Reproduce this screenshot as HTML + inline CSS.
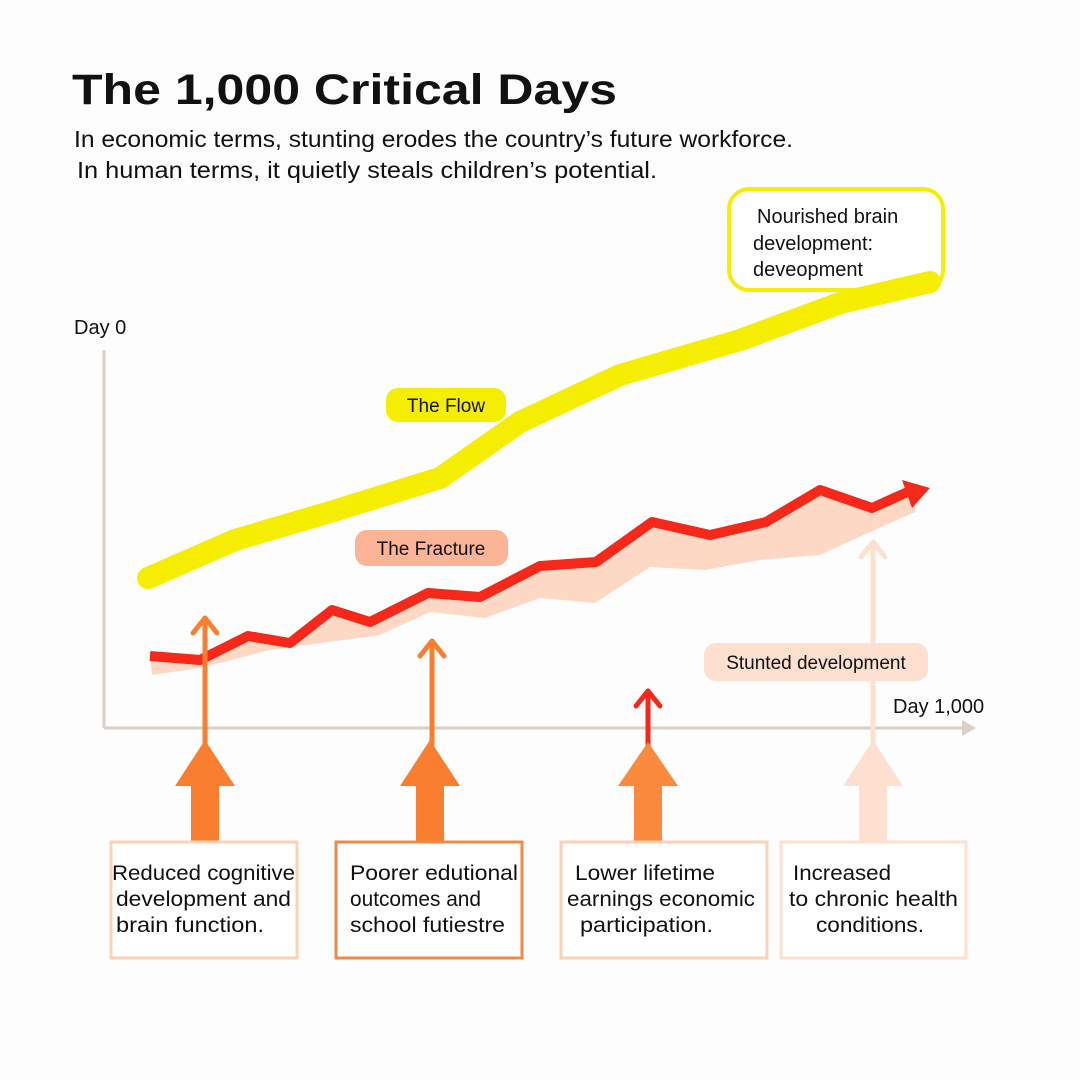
<!DOCTYPE html>
<html><head><meta charset="utf-8"><style>
body{margin:0;background:#fff;}
svg{display:block;font-family:"Liberation Sans","DejaVu Sans",sans-serif;}
</style></head><body>
<svg width="1080" height="1080" viewBox="0 0 1080 1080" xmlns="http://www.w3.org/2000/svg">
<rect width="1080" height="1080" fill="#fdfdfd"/>
<text x="72" y="104" font-size="43" font-weight="bold" fill="#111" textLength="545" lengthAdjust="spacingAndGlyphs">The 1,000 Critical Days</text>
<text x="74" y="147" font-size="23" fill="#111" textLength="719" lengthAdjust="spacingAndGlyphs">In economic terms, stunting erodes the country’s future workforce.</text>
<text x="77" y="178" font-size="23" fill="#111" textLength="580" lengthAdjust="spacingAndGlyphs">In human terms, it quietly steals children’s potential.</text>

<!-- axes -->
<line x1="104" y1="350" x2="104" y2="728" stroke="#d9d0c8" stroke-width="3"/>
<line x1="104" y1="728" x2="968" y2="728" stroke="#d9d0c8" stroke-width="3"/>
<polygon points="962,720 976,728 962,736" fill="#d9d0c8"/>
<text x="74" y="334" font-size="20" fill="#111">Day 0</text>
<text x="893" y="713" font-size="20" fill="#111">Day 1,000</text>

<!-- yellow -->
<rect x="729" y="189" width="214" height="101" rx="20" fill="#fff" stroke="#f5ee00" stroke-width="4"/>
<polyline points="148,578 235,540 330,512 440,478 520,422 620,375 740,340 840,303 930,282" fill="none" stroke="#f5ee00" stroke-width="22" stroke-linecap="round" stroke-linejoin="round"/>
<text x="757" y="223" font-size="20" fill="#111">Nourished brain</text>
<text x="753" y="250" font-size="20" fill="#111">development:</text>
<text x="753" y="276" font-size="20" fill="#111">deveopment</text>
<rect x="386" y="388" width="120" height="34" rx="12" fill="#f5ee00"/>
<text x="446" y="412" font-size="19" text-anchor="middle" fill="#111">The Flow</text>

<!-- band -->
<polygon points="150,656 200,660 248,636 290,643 332,610 370,622 428,593 480,597 540,566 596,562 652,522 710,535 766,522 820,490 872,508 915,490 915,512 870,532 820,555 760,560 705,570 650,567 595,603 540,598 485,618 430,612 380,635 270,650 200,668 152,675" fill="#fdd9c5"/>
<polyline points="150,656 200,660 248,636 290,643 332,610 370,622 428,593 480,597 540,566 596,562 652,522 710,535 766,522 820,490 872,508 912,490" fill="none" stroke="#f5281a" stroke-width="10" stroke-linejoin="round"/>
<polygon points="902,480 930,488 912,508" fill="#f5281a"/>
<rect x="355" y="530" width="153" height="36" rx="12" fill="#fbb496"/>
<text x="431" y="555" font-size="19" text-anchor="middle" fill="#111">The Fracture</text>

<!-- thin arrows -->
<g fill="none" stroke-width="5" stroke-linecap="round" stroke-linejoin="round">
<line x1="205" y1="620" x2="205" y2="745" stroke="#f97e2f"/><polyline points="193,633 205,618 217,633" stroke="#f97e2f"/>
<line x1="432" y1="642" x2="432" y2="745" stroke="#f97e2f"/><polyline points="420,656 432,641 444,656" stroke="#f97e2f"/>
<line x1="648" y1="692" x2="648" y2="745" stroke="#f5281a"/><polyline points="636,706 648,691 660,706" stroke="#f5281a"/>
<line x1="873" y1="543" x2="873" y2="745" stroke="#fde0cf"/><polyline points="861,557 873,542 885,557" stroke="#fde0cf"/>
</g>
<rect x="704" y="643" width="224" height="38" rx="12" fill="#fde0cf"/>
<text x="816" y="669" font-size="19" text-anchor="middle" fill="#111">Stunted development</text>
<!-- big arrows -->
<polygon points="205,740 235,786 219,786 219,845 191,845 191,786 175,786" fill="#f97e2f"/>
<polygon points="430,740 460,786 444,786 444,845 416,845 416,786 400,786" fill="#f97e2f"/>
<polygon points="648,742 678,786 662,786 662,845 634,845 634,786 618,786" fill="#fb8a3e"/>
<polygon points="873,740 903,786 887,786 887,845 859,845 859,786 843,786" fill="#fde0cf"/>

<!-- boxes -->
<g fill="#fff" stroke-width="3">
<rect x="111" y="842" width="186" height="116" stroke="#fbd2b8"/>
<rect x="336" y="842" width="186" height="116" stroke="#f08a4a"/>
<rect x="561" y="842" width="206" height="116" stroke="#fbd2b8"/>
<rect x="781" y="842" width="185" height="116" stroke="#fde0cf"/>
</g>
<g font-size="21" fill="#111">
<text x="112" y="880" textLength="183" lengthAdjust="spacingAndGlyphs">Reduced cognitive</text>
<text x="116" y="906" textLength="175" lengthAdjust="spacingAndGlyphs">development and</text>
<text x="116" y="932" textLength="148" lengthAdjust="spacingAndGlyphs">brain function.</text>
<text x="350" y="880" textLength="168" lengthAdjust="spacingAndGlyphs">Poorer edutional</text>
<text x="350" y="906" textLength="131" lengthAdjust="spacingAndGlyphs">outcomes and</text>
<text x="350" y="932" textLength="155" lengthAdjust="spacingAndGlyphs">school futiestre</text>
<text x="575" y="880" textLength="140" lengthAdjust="spacingAndGlyphs">Lower lifetime</text>
<text x="567" y="906" textLength="188" lengthAdjust="spacingAndGlyphs">earnings economic</text>
<text x="580" y="932" textLength="133" lengthAdjust="spacingAndGlyphs">participation.</text>
<text x="793" y="880" textLength="98" lengthAdjust="spacingAndGlyphs">Increased</text>
<text x="789" y="906" textLength="169" lengthAdjust="spacingAndGlyphs">to chronic health</text>
<text x="816" y="932" textLength="108" lengthAdjust="spacingAndGlyphs">conditions.</text>
</g>
</svg>
</body></html>
